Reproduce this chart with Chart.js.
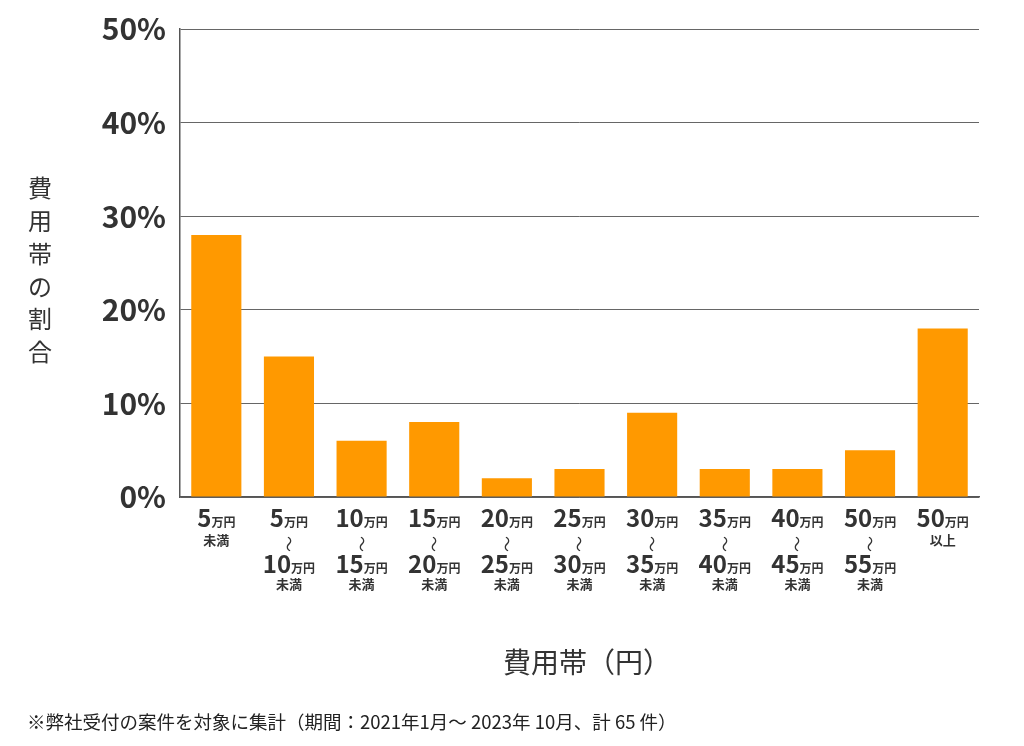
<!DOCTYPE html>
<html lang="ja">
<head>
<meta charset="utf-8">
<script src="https://cdn.jsdelivr.net/npm/chart.js@4"></script>
<style>
  html, body { margin: 0; padding: 0; background: #fff; }
  #wrap { width: 1024px; height: 746px; position: relative; }
</style>
</head>
<body>
<div id="wrap"><canvas id="costChart"></canvas></div>
<script>
// data
const tickTop    = ['5', '5', '10', '15', '20', '25', '30', '35', '40', '50', '50'];
const tickBottom = ['', '10', '15', '20', '25', '30', '35', '40', '45', '55', ''];
const tickNote   = ['未満', '未満', '未満', '未満', '未満', '未満', '未満', '未満', '未満', '未満', '以上'];
const shares     = [28, 15, 6, 8, 2, 3, 9, 3, 3, 5, 18];
const yTicks     = [0, 10, 20, 30, 40, 50];

const unit = '万円';
const yTitle = '費用帯の割合';
const xTitle = '費用帯（円）';
const footNote = '※弊社受付の案件を対象に集計（期間：2021年1月～ 2023年 10月、計 65 件）';

const categories = tickTop.map(function(t, i) {
  return tickBottom[i] ? t + unit + '〜' + tickBottom[i] + unit + tickNote[i] : t + unit + tickNote[i];
});

const FONT = '"Noto Sans CJK JP", "Noto Sans", sans-serif';

// draws the amount line: big digits + small 万円
function amountLine(ctx, x, y, num) {
  ctx.font = 'bold 24px ' + FONT;
  let w1 = ctx.measureText(num).width;
  ctx.font = 'bold 12px ' + FONT;
  let w2 = ctx.measureText(unit).width;
  let left = x - (w1 + w2) / 2;
  ctx.textAlign = 'left';
  ctx.font = 'bold 24px ' + FONT;
  ctx.fillText(num, left, y);
  ctx.font = 'bold 12px ' + FONT;
  ctx.fillText(unit, left + w1, y);
}

const labelPlugin = {
  id: 'labelPlugin',
  afterDraw: function(chart) {
    let ctx = chart.ctx;
    let xs = chart.scales.x;
    ctx.save();
    ctx.fillStyle = '#333';
    ctx.textBaseline = 'alphabetic';

    tickTop.forEach(function(top, i) {
      let x = xs.getPixelForValue(i);
      amountLine(ctx, x, 527, top);
      ctx.textAlign = 'center';
      if (tickBottom[i]) {
        // vertical wave
        ctx.save();
        ctx.translate(x, 544);
        ctx.rotate(Math.PI / 2);
        ctx.font = '16px ' + FONT;
        ctx.textBaseline = 'middle';
        ctx.fillText('〜', 0, 0);
        ctx.restore();
        amountLine(ctx, x, 573, tickBottom[i]);
        ctx.textAlign = 'center';
        ctx.font = 'bold 13px ' + FONT;
        ctx.fillText(tickNote[i], x, 589);
      } else {
        ctx.font = 'bold 13px ' + FONT;
        ctx.fillText(tickNote[i], x, 545);
      }
    });

    // y title, upright stacked characters
    ctx.font = '24px ' + FONT;
    ctx.textAlign = 'center';
    ctx.textBaseline = 'middle';
    Array.from(yTitle).forEach(function(ch, k) {
      ctx.fillText(ch, 40, 188 + k * 32.8);
    });

    // x title
    ctx.font = '28px ' + FONT;
    ctx.textAlign = 'left';
    ctx.fillText(xTitle, 503, 662);

    // footnote
    ctx.font = '18.5px ' + FONT;
    ctx.fillStyle = '#222';
    ctx.fillText(footNote, 27, 722);
    ctx.restore();
  }
};

var costChart = new Chart(document.getElementById('costChart').getContext('2d'), {
  type: 'bar',
  data: {
    labels: categories,
    datasets: [{
      data: shares,
      backgroundColor: 'rgb(255, 153, 0)',
      barPercentage: 0.69,
      categoryPercentage: 1.0
    }]
  },
  options: {
    responsive: true,
    maintainAspectRatio: false,
    animation: false,
    devicePixelRatio: 1,
    layout: { padding: { top: 29, right: 45, bottom: 0, left: 0 } },
    plugins: {
      legend: { display: false },
      tooltip: { enabled: false }
    },
    scales: {
      x: {
        grid: { display: false },
        border: { display: true, color: '#555', width: 1.5 },
        ticks: { display: false },
        afterFit: function(scale) { scale.height = 249; }
      },
      y: {
        min: 0,
        max: 50,
        afterBuildTicks: function(scale) {
          scale.ticks = yTicks.map(function(v) { return { value: v }; });
        },
        grid: { color: '#666', lineWidth: 1, drawTicks: false },
        border: { display: true, color: '#555', width: 1.5 },
        ticks: {
          padding: 14,
          color: '#333',
          font: { family: FONT, size: 30, weight: 'bold', lineHeight: 1.0 },
          callback: function(v) { return v + '%'; }
        },
        afterFit: function(scale) { scale.width = 180; }
      }
    }
  },
  plugins: [labelPlugin]
});
</script>
</body>
</html>
